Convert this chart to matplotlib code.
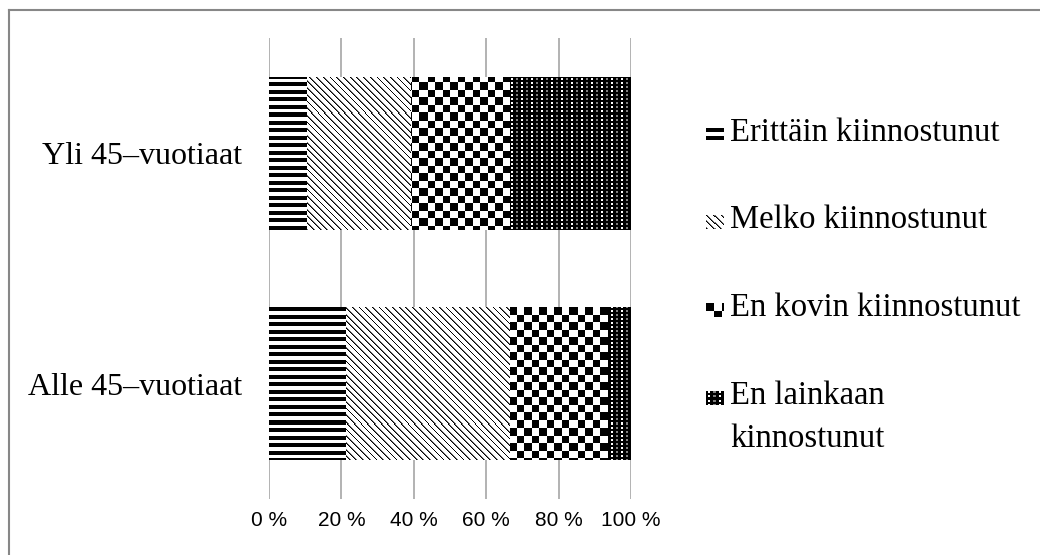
import numpy as np
import matplotlib.pyplot as plt
from matplotlib.lines import Line2D

# survey answers, share of respondents (%)
groups = ['Alle 45–vuotiaat', 'Yli 45–vuotiaat']
answers = ['Erittäin kiinnostunut', 'Melko kiinnostunut',
           'En kovin kiinnostunut', 'En lainkaan\nkinnostunut']
alle_45 = [21.3, 45.3, 27.1, 6.3]
yli_45 = [10.5, 28.6, 27.5, 33.4]
xticks = [0, 20, 40, 60, 80, 100]
xtick_labels = ['0 %', '20 %', '40 %', '60 %', '80 %', '100 %']

patterns = ['hline', 'diag', 'checker', 'dense']
serif = 'Liberation Serif'

W, H, DPI = 1040, 555, 100


def texture(kind, h, w):
    # black/white fill patterns, built pixel by pixel
    i, j = np.mgrid[0:h, 0:w]
    u = (j / 1.875).astype(int)
    v = (i / 1.875).astype(int)
    shade = np.zeros((h, w))
    if kind == 'hline':
        shade[v % 4 >= 2] = 1.0
    elif kind == 'diag':
        d = (j - i) % 6.7
        shade[d >= 1.0] = 1.0
        shade[(d >= 1.0) & (d < 1.8)] = 0.45
    elif kind == 'checker':
        shade[((u // 4) + (v // 4)) % 2 == 1] = 1.0
    else:
        dot = (j % 5 >= 2) & (j % 5 <= 3) & (i % 4 >= 1) & (i % 4 <= 2)
        bright = (j // 5) % 2 == 0
        shade[dot & bright] = 1.0
        shade[dot & ~bright] = 0.5
    rgba = np.ones((h, w, 4))
    rgba[..., 0] = shade
    rgba[..., 1] = shade
    rgba[..., 2] = shade
    return rgba


fig = plt.figure(figsize=(W / DPI, H / DPI), dpi=DPI)
ax = fig.add_axes([269 / W, 56 / H, 362 / W, 461 / H])

ax_w, ax_h = 362, 461
fills = {k: texture(k, ax_h, ax_w) for k in patterns}

left = np.zeros(2)
for k, kind in enumerate(patterns):
    vals = np.array([alle_45[k], yli_45[k]])
    bars = ax.barh([0, 1], vals, left=left, height=0.664,
                   facecolor='none', edgecolor='none', linewidth=0)
    for bar in bars:
        im = ax.imshow(fills[kind], extent=(0, 100, -0.5, 1.5), aspect='auto',
                       interpolation='nearest', zorder=2)
        im.set_clip_path(bar)
    left += vals

ax.set_xlim(0, 100)
ax.set_ylim(-0.5, 1.5)
ax.set_xticks(xticks, labels=xtick_labels)
ax.set_yticks([0, 1], labels=groups)
for lab in ax.get_xticklabels():
    lab.set_fontfamily('Liberation Sans')
    lab.set_fontsize(15)
for lab in ax.get_yticklabels():
    lab.set_fontfamily(serif)
    lab.set_fontsize(23)
ax.tick_params(axis='x', length=0, pad=9)
ax.tick_params(axis='y', length=0, pad=19)
ax.xaxis.grid(True, color='#a6a6a6', linewidth=1.2)
ax.set_axisbelow(True)
for s in ax.spines.values():
    s.set_visible(False)

# legend: small pattern swatches with labels
legend_y = [135, 222, 310, 398]
for kind, label, yc in zip(patterns, answers, legend_y):
    icon = fig.add_axes([706 / W, (H - yc - 7) / H, 17 / W, 14 / H])
    icon.imshow(texture(kind, 14, 17), interpolation='nearest', aspect='auto')
    icon.axis('off')
    for n, line in enumerate(label.split('\n')):
        fig.text(730 / W, 1 - (yc - 2 + n * 43) / H, line, fontfamily=serif,
                 fontsize=23.5, va='center', ha='left')

# outer frame (left and top edges)
fig.add_artist(Line2D([9 / W, 9 / W], [0, 1 - 10 / H], color='#878787', lw=1.5))
fig.add_artist(Line2D([9 / W, 1], [1 - 10 / H, 1 - 10 / H], color='#878787', lw=1.5))

fig.savefig('out.png', dpi=DPI)
